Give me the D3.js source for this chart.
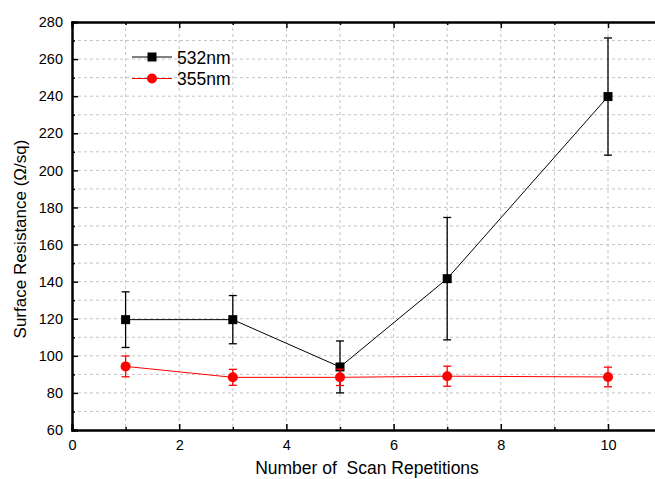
<!DOCTYPE html>
<html><head><meta charset="utf-8">
<script src="https://cdn.jsdelivr.net/npm/d3@7"></script>
<style>body{margin:0;background:#fff;} svg{display:block;font-family:"Liberation Sans",Arial,sans-serif;}</style>
</head><body>
<svg id="c" width="655" height="479"></svg>
<script>
const scans = [1, 3, 5, 7, 10];
const r532 = [119.5, 119.5, 94, 141.6, 239.8];
const e532 = [15, 13, 14, 33, 31.6];
const r355 = [94.3, 88.4, 88.4, 89.0, 88.6];
const e355 = [5.6, 4.3, 4.4, 5.4, 5.3];
const xMajorTicks = [0, 2, 4, 6, 8, 10];
const yMajorTicks = [60, 80, 100, 120, 140, 160, 180, 200, 220, 240, 260, 280];
const legendLabels = ["532nm", "355nm"];

const svg = d3.select("#c");
const L = 72, T = 22, B = 430;
const x = d3.scaleLinear().domain([0, 11]).range([L, L + 11 * 53.6]);
const y = d3.scaleLinear().domain([60, 280]).range([B, T]);
const R = x(11);

// grid
const xMinor = d3.range(1, 11, 1);
const yMinor = d3.range(70, 280, 10);
svg.append("g").selectAll("line").data(xMinor).join("line")
  .attr("x1", d => x(d)).attr("x2", d => x(d)).attr("y1", T).attr("y2", B)
  .attr("stroke", "#c4c4c4").attr("stroke-width", 1).attr("stroke-dasharray", "3,3");
svg.append("g").selectAll("line").data(yMinor).join("line")
  .attr("x1", L).attr("x2", R).attr("y1", d => y(d)).attr("y2", d => y(d))
  .attr("stroke", "#c4c4c4").attr("stroke-width", 1).attr("stroke-dasharray", "3,3");

// axes
const fmt = d3.format("d");
const gx = svg.append("g").attr("transform", `translate(0,${B})`)
  .call(d3.axisBottom(x).tickValues(xMajorTicks).tickSize(-6).tickPadding(10).tickFormat(fmt));
const gxm = svg.append("g").attr("transform", `translate(0,${B})`)
  .call(d3.axisBottom(x).tickValues(d3.range(1, 11, 2)).tickSize(-3).tickFormat(""));
const gt = svg.append("g").attr("transform", `translate(0,${T})`)
  .call(d3.axisTop(x).tickValues(xMajorTicks).tickSize(-6).tickFormat(""));
const gtm = svg.append("g").attr("transform", `translate(0,${T})`)
  .call(d3.axisTop(x).tickValues(d3.range(1, 11, 2)).tickSize(-3).tickFormat(""));
const gy = svg.append("g").attr("transform", `translate(${L},0)`)
  .call(d3.axisLeft(y).tickValues(yMajorTicks).tickSize(-6).tickPadding(10).tickFormat(fmt));
const gym = svg.append("g").attr("transform", `translate(${L},0)`)
  .call(d3.axisLeft(y).tickValues(d3.range(70, 280, 20)).tickSize(-3).tickFormat(""));
[gx, gxm, gt, gtm, gy, gym].forEach(g => {
  g.select(".domain").attr("stroke", "#000").attr("stroke-width", 2);
  g.selectAll(".tick line").attr("stroke", "#000").attr("stroke-width", 1.5);
  g.selectAll("text").attr("font-size", 14.5).attr("fill", "#000")
    .attr("font-family", "Liberation Sans, Arial, sans-serif");
});
gy.selectAll("text").attr("dx", 1);

// axis titles
svg.append("text").attr("x", 367).attr("y", 474).attr("text-anchor", "middle")
  .attr("font-size", 17.5).style("white-space", "pre").attr("xml:space", "preserve")
  .text("Number of  Scan Repetitions");
svg.append("text").attr("transform", "translate(26,239) rotate(-90)").attr("text-anchor", "middle")
  .attr("font-size", 17).text("Surface Resistance (\u03A9/sq)");

// series
function drawSeries(vals, errs, color, shape) {
  const pts = scans.map((s, i) => ({ x: s, v: vals[i], e: errs[i] }));
  const g = svg.append("g");
  g.append("path").datum(pts).attr("fill", "none").attr("stroke", color).attr("stroke-width", 1)
    .attr("d", d3.line().x(d => x(d.x)).y(d => y(d.v)));
  const eb = g.selectAll(".eb").data(pts).join("g");
  eb.append("line").attr("x1", d => x(d.x)).attr("x2", d => x(d.x))
    .attr("y1", d => y(d.v + d.e)).attr("y2", d => y(d.v - d.e)).attr("stroke", color).attr("stroke-width", 1.3);
  [1, -1].forEach(sg => eb.append("line").attr("x1", d => x(d.x) - 4).attr("x2", d => x(d.x) + 4)
    .attr("y1", d => y(d.v + sg * d.e)).attr("y2", d => y(d.v + sg * d.e)).attr("stroke", color).attr("stroke-width", 1.3));
  if (shape === "square") {
    g.selectAll(".m").data(pts).join("rect").attr("x", d => x(d.x) - 4.5).attr("y", d => y(d.v) - 4.5)
      .attr("width", 9).attr("height", 9).attr("fill", color);
  } else {
    g.selectAll(".m").data(pts).join("circle").attr("cx", d => x(d.x)).attr("cy", d => y(d.v))
      .attr("r", 5).attr("fill", color);
  }
}
drawSeries(r532, e532, "#000", "square");
drawSeries(r355, e355, "#ff0000", "circle");

// legend
const leg = [{ c: "#000", s: "square" }, { c: "#ff0000", s: "circle" }];
leg.forEach((d, i) => {
  const ly = 57 + i * 21.5;
  const g = svg.append("g");
  g.append("line").attr("x1", 132).attr("x2", 172).attr("y1", ly).attr("y2", ly).attr("stroke", d.c).attr("stroke-width", 1);
  if (d.s === "square") g.append("rect").attr("x", 147.5).attr("y", ly - 4.5).attr("width", 9).attr("height", 9).attr("fill", d.c);
  else g.append("circle").attr("cx", 152).attr("cy", ly).attr("r", 5).attr("fill", d.c);
  g.append("text").attr("x", 177).attr("y", ly + 6.5).attr("font-size", 17.5).text(legendLabels[i]);
});
</script>
</body></html>
